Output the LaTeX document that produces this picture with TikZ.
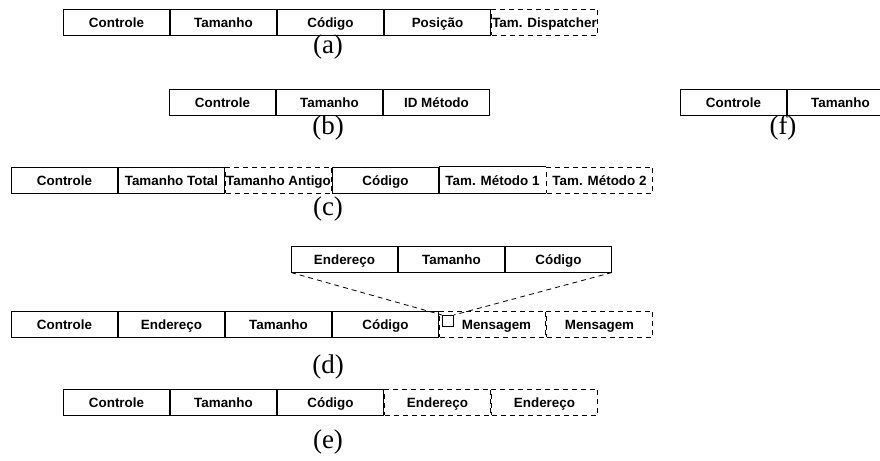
\documentclass[tikz,border=0pt]{standalone}
\usepackage{fontspec}
\setmainfont{Liberation Serif}
\setsansfont{Liberation Sans}
\usetikzlibrary{positioning}

\begin{document}
\begin{tikzpicture}[
x=0.5pt,y=-0.5pt,
node distance=0pt,
campo/.style={draw,line width=0.5pt,minimum width=53pt,minimum height=13pt,inner sep=0pt,text height=5pt,text depth=0pt,font=\sffamily\bfseries\fontsize{6.7}{8}\selectfont},
opc/.style={campo,dash pattern=on 2.5pt off 2pt},
sem/.style={campo,draw=none},
rot/.style={font=\fontsize{13.5}{15}\selectfont},
zoom/.style={line width=0.4pt,dash pattern=on 2.5pt off 2pt}
]
\useasboundingbox (0,0) rectangle (880,461);

% (a)
\node[campo,anchor=west] (a1) at (63,22) {Controle};
\node[campo,right=of a1] (a2) {Tamanho};
\node[campo,right=of a2] (a3) {Código};
\node[campo,right=of a3] (a4) {Posição};
\node[opc,right=of a4] (a5) {Tam. Dispatcher};
\node[rot] (la) at (328,47) {(a)};

% (b)
\node[campo,anchor=west] (b1) at (169,102) {Controle};
\node[campo,right=of b1] (b2) {Tamanho};
\node[campo,right=of b2] (b3) {ID Método};
\node[rot] (lb) at (328,128) {(b)};

% (f)
\node[campo,anchor=west] (f1) at (680,102) {Controle};
\node[campo,right=of f1] (f2) {Tamanho};
\node[rot] (lf) at (783,128) {(f)};

% (c)
\node[campo,anchor=west] (c1) at (11,180) {Controle};
\node[campo,right=of c1] (c2) {Tamanho Total};
\node[opc,right=of c2] (c3) {Tamanho Antigo};
\node[campo,right=of c3] (c4) {Código};
\node[sem,right=of c4] (c5) {Tam. Método 1};
\node[opc,right=of c5] (c6) {Tam. Método 2};
\draw[line width=0.5pt] (c5.north east) -- (c5.north west) -- (c5.south west) -- (c5.south east);
\node[rot] (lc) at (328,209) {(c)};

% (d)
\node[campo,anchor=west] (u1) at (291,259) {Endereço};
\node[campo,right=of u1] (u2) {Tamanho};
\node[campo,right=of u2] (u3) {Código};

\node[campo,anchor=west] (d1) at (11,324) {Controle};
\node[campo,right=of d1] (d2) {Endereço};
\node[campo,right=of d2] (d3) {Tamanho};
\node[campo,right=of d3] (d4) {Código};
\node[opc,right=of d4] (d5) {\hspace*{4pt}Mensagem};
\node[opc,right=of d5] (d6) {Mensagem};
\node[draw,line width=0.4pt,minimum size=5.5pt,inner sep=0pt,anchor=north west] (sq) at (442,315) {};
\draw[zoom] (u1.south west) -- (sq.north west);
\draw[zoom] (u3.south east) -- (sq.north east);
\node[rot] (ld) at (328,367) {(d)};

% (e)
\node[campo,anchor=west] (e1) at (63,402) {Controle};
\node[campo,right=of e1] (e2) {Tamanho};
\node[campo,right=of e2] (e3) {Código};
\node[opc,right=of e3] (e4) {Endereço};
\node[opc,right=of e4] (e5) {Endereço};
\node[rot] (le) at (328,442) {(e)};
\end{tikzpicture}
\end{document}
